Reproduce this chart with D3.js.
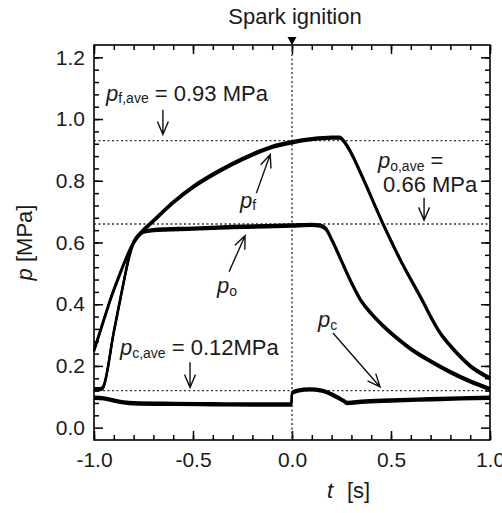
<!DOCTYPE html>
<html>
<head>
<meta charset="utf-8" />
<title>Pressure traces around spark ignition</title>
<style>
    body { margin: 0; background: #fff; }
    svg { display: block; font-family: "Liberation Sans", Arial, sans-serif; }
    .axis path { display: none; }
    .axis line { stroke: #000; stroke-width: 1.5; }
    .axis text { font-size: 21px; fill: #1a1a1a; font-family: "Liberation Sans", Arial, sans-serif; }
    .ref { stroke: #333; stroke-width: 1.4; stroke-dasharray: 2,2.5; fill: none; }
    .trace { fill: none; stroke: #000; stroke-width: 2.2; stroke-linejoin: round; }
    .note { font-size: 22px; fill: #1a1a1a; }
    .arrow { stroke: #111; stroke-width: 1.4; fill: none; }
</style>
<script src="https://d3js.org/d3.v7.min.js"></script>
</head>
<body>
<script>

// p_f trace (t [s], p [MPa])
let tF = [-1.0, -0.97, -0.94, -0.92, -0.88, -0.84, -0.80, -0.75, -0.70, -0.60, -0.50,
          -0.40, -0.30, -0.20, -0.10, 0.0, 0.10, 0.20, 0.24, 0.29, 0.35, 0.46, 0.55,
          0.66, 0.70, 0.75, 0.80, 0.85, 0.90, 0.95, 1.0];
let pF = [0.25, 0.31, 0.37, 0.41, 0.48, 0.545, 0.60, 0.64, 0.67, 0.73, 0.78,
          0.82, 0.855, 0.885, 0.91, 0.925, 0.935, 0.94, 0.94, 0.90, 0.82, 0.66, 0.54,
          0.41, 0.36, 0.305, 0.265, 0.23, 0.20, 0.178, 0.16];

// p_o trace
let tO = [-1.0, -0.97, -0.955, -0.90, -0.86, -0.82, -0.80, -0.78, -0.75, -0.70, -0.50,
          -0.30, 0.0, 0.10, 0.14, 0.17, 0.20, 0.25, 0.30, 0.35, 0.40, 0.46, 0.53,
          0.60, 0.70, 0.80, 0.90, 1.0];
let pO = [0.125, 0.125, 0.13, 0.31, 0.44, 0.56, 0.60, 0.62, 0.635, 0.64, 0.645,
          0.65, 0.655, 0.657, 0.655, 0.645, 0.61, 0.54, 0.47, 0.41, 0.37, 0.33, 0.29,
          0.255, 0.215, 0.18, 0.15, 0.125];

// p_c trace
let tC = [-1.0, -0.95, -0.90, -0.85, -0.80, -0.60, -0.40, -0.20, -0.003, 0.0, 0.03,
          0.09, 0.15, 0.20, 0.23, 0.26, 0.28, 0.35, 0.50, 0.70, 0.85, 1.0];
let pC = [0.097, 0.095, 0.088, 0.082, 0.079, 0.077, 0.076, 0.075, 0.075, 0.112, 0.12,
          0.124, 0.12, 0.108, 0.098, 0.087, 0.08, 0.084, 0.088, 0.092, 0.095, 0.097];

// averaged pressures (dotted reference lines)
let aveNames = ["f", "o", "c"];
let aveValues = [0.93, 0.66, 0.12];

// tick labels
let xTicks = [-1.0, -0.5, 0.0, 0.5, 1.0];
let xTickLabels = ["-1.0", "-0.5", "0.0", "0.5", "1.0"];
let yTicks = [0.0, 0.2, 0.4, 0.6, 0.8, 1.0, 1.2];
let yTickLabels = ["0.0", "0.2", "0.4", "0.6", "0.8", "1.0", "1.2"];

let W = 502, H = 513;
let mLeft = 94, mRight = 490, mTop = 45, mBottom = 440;

let x = d3.scaleLinear().domain([-1, 1]).range([mLeft, mRight]);
let y = d3.scaleLinear().domain([-0.04, 1.24]).range([mBottom, mTop]);

let svg = d3.select("body").append("svg")
    .attr("width", W)
    .attr("height", H);

// minor ticks
let xMinor = d3.range(-10, 11).map(d => d / 10);
let yMinor = d3.range(1, 31).map(d => d * 0.04);

function ticks(axisFn, pos, vals, size, labels, pad) {
    let a = axisFn.tickValues(vals).tickSize(size).tickSizeOuter(0);
    if (labels) {
        a.tickFormat((d, i) => labels[i]).tickPadding(pad);
    } else {
        a.tickFormat("");
    }
    return svg.append("g").attr("class", "axis")
        .attr("transform", pos).call(a);
}

ticks(d3.axisBottom(x), "translate(0," + mBottom + ")", xMinor, -5);
ticks(d3.axisBottom(x), "translate(0," + mBottom + ")", xTicks, -9, xTickLabels, 12);
ticks(d3.axisTop(x), "translate(0," + mTop + ")", xMinor, -5);
ticks(d3.axisTop(x), "translate(0," + mTop + ")", xTicks, -9);
ticks(d3.axisLeft(y), "translate(" + mLeft + ",0)", yMinor, -5);
ticks(d3.axisLeft(y), "translate(" + mLeft + ",0)", yTicks, -9, yTickLabels, 9);
ticks(d3.axisRight(y), "translate(" + mRight + ",0)", yMinor, -5);
ticks(d3.axisRight(y), "translate(" + mRight + ",0)", yTicks, -9);

// frame
svg.append("rect")
    .attr("x", mLeft).attr("y", mTop)
    .attr("width", mRight - mLeft).attr("height", mBottom - mTop)
    .attr("fill", "none").attr("stroke", "#000").attr("stroke-width", 1.6);

// dotted reference lines
svg.selectAll("line.ave")
    .data(aveValues)
    .enter().append("line")
    .attr("class", "ref")
    .attr("x1", mLeft).attr("x2", mRight)
    .attr("y1", d => y(d)).attr("y2", d => y(d));

svg.append("line").attr("class", "ref")
    .attr("x1", x(0)).attr("x2", x(0))
    .attr("y1", mTop).attr("y2", mBottom);

// traces; drawn as a thin band to mimic the noisy signal
let series = [[tF, pF], [tO, pO], [tC, pC]];
let offsets = [-1.1, 0, 1.1];

series.forEach(s => {
    let pts = s[0].map((t, i) => [t, s[1][i]]);
    offsets.forEach(o => {
        let line = d3.line()
            .x(d => x(d[0]))
            .y(d => y(d[1]) + o)
            .curve(d3.curveMonotoneX);
        svg.append("path").attr("class", "trace").attr("d", line(pts));
    });
});

// spark ignition marker
let sx = x(0);
svg.append("path")
    .attr("d", "M" + (sx - 4.5) + "," + (mTop - 8) + "L" + (sx + 4.5) + "," + (mTop - 8) + "L" + sx + "," + mTop + "Z")
    .attr("fill", "#000");

svg.append("text")
    .attr("class", "note")
    .attr("x", sx + 3).attr("y", 24)
    .attr("text-anchor", "middle")
    .text("Spark ignition");

// axis titles
let yt = svg.append("text")
    .attr("class", "note")
    .attr("transform", "translate(32," + ((mTop + mBottom) / 2) + ") rotate(-90)")
    .attr("text-anchor", "middle");
yt.append("tspan").attr("font-style", "italic").text("p");
yt.append("tspan").text(" [MPa]");

let xt = svg.append("text")
    .attr("class", "note")
    .attr("x", 327).attr("y", 498);
xt.append("tspan").attr("font-style", "italic").text("t");
xt.append("tspan").attr("x", 347).text("[s]");

// labels with subscripts
function subLabel(t, p, sub, rest) {
    let txt = svg.append("text").attr("class", "note")
        .attr("x", x(t)).attr("y", y(p));
    txt.append("tspan").attr("font-style", "italic").text("p");
    txt.append("tspan").attr("font-size", 14).attr("dy", 2.5).text(sub);
    if (rest) txt.append("tspan").attr("dy", -2.5).text(rest);
    return txt;
}

function arrow(t0, p0, t1, p1) {
    let x0 = x(t0), y0 = y(p0), x1 = x(t1), y1 = y(p1);
    let ang = Math.atan2(y1 - y0, x1 - x0);
    let len = 14, spread = 0.4;
    let d = "M" + x0 + "," + y0 + "L" + x1 + "," + y1 +
        "M" + (x1 - len * Math.cos(ang - spread)) + "," + (y1 - len * Math.sin(ang - spread)) +
        "L" + x1 + "," + y1 +
        "L" + (x1 - len * Math.cos(ang + spread)) + "," + (y1 - len * Math.sin(ang + spread));
    svg.append("path").attr("class", "arrow").attr("d", d);
}

subLabel(-0.939, 1.059, "f,ave", " = 0.93 MPa");
arrow(-0.652, 1.03, -0.652, 0.95);

subLabel(0.434, 0.841, "o,ave", " =");
svg.append("text").attr("class", "note")
    .attr("x", x(0.46)).attr("y", y(0.764)).text("0.66 MPa");
arrow(0.667, 0.745, 0.667, 0.672);

subLabel(-0.869, 0.235, "c,ave", " = 0.12MPa");
arrow(-0.515, 0.212, -0.515, 0.13);

subLabel(-0.263, 0.712, "f");
arrow(-0.18, 0.76, -0.11, 0.885);

subLabel(-0.379, 0.436, "o");
arrow(-0.318, 0.505, -0.237, 0.622);

subLabel(0.131, 0.326, "c");
arrow(0.207, 0.307, 0.445, 0.132);

</script>
</body>
</html>
